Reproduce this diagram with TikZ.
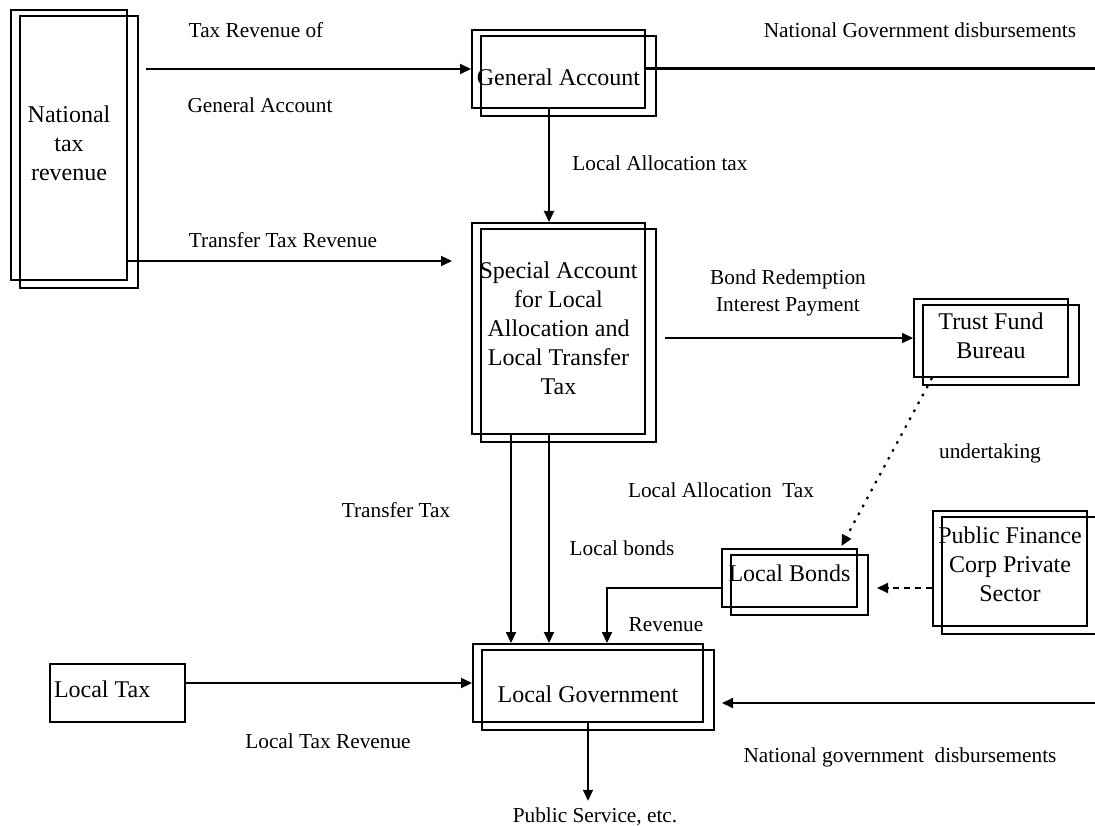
\documentclass[tikz,border=0pt]{standalone}
\usepackage{fontspec}
\setmainfont{Liberation Serif}
\usetikzlibrary{arrows.meta,calc}
\newcommand\twinbox[1]{\draw[line width=2pt] ($(#1.north west)+(10,7)$) rectangle ($(#1.south east)+(10,7)$);}
\newcommand\shiftline[2]{\raisebox{#1}[\height][\depth]{#2}}
\begin{document}
\begin{tikzpicture}[x=1pt,y=-1pt,
  box/.style={draw,line width=2pt,inner sep=0pt,align=center,font=\fontsize{24}{29}\selectfont},
  lbl/.style={inner sep=0pt,align=center,font=\fontsize{21.3}{27}\selectfont},
  tip/.style={-{Triangle[length=11pt,width=10pt]}},
  arr/.style={line width=2pt,tip},
  dotarr/.style={line width=2.2pt,dash pattern=on 2.5pt off 6.5pt,tip},
  dasharr/.style={line width=2pt,dash pattern=on 6pt off 5pt,tip}]
\useasboundingbox (0,0) rectangle (1095,826);
\fill[white] (0,0) rectangle (1095,826);

% boxes
\node[box,minimum width=116pt,minimum height=270pt] (ntr) at (69,145) {\shiftline{2pt}{National}\\\shiftline{2pt}{tax}\\\shiftline{2pt}{revenue}};
\twinbox{ntr}
\node[box,minimum width=173pt,minimum height=78pt] (ga) at (558.5,69) {\shiftline{-8pt}{General Account}};
\twinbox{ga}
\node[box,minimum width=173pt,minimum height=211pt] (sa) at (558.5,328.5) {Special Account\\for Local\\Allocation and\\Local Transfer\\Tax};
\twinbox{sa}
\node[box,minimum width=154pt,minimum height=78pt] (tf) at (991,338) {\shiftline{2pt}{Trust Fund}\\\shiftline{2pt}{Bureau}};
\twinbox{tf}
\node[box,minimum width=135pt,minimum height=58pt] (lb) at (789.5,578) {\shiftline{5pt}{Local Bonds}};
\twinbox{lb}
\node[box,minimum width=154pt,minimum height=115pt] (pf) at (1010,568.5) {\shiftline{4pt}{Public Finance}\\\shiftline{4pt}{Corp Private}\\\shiftline{4pt}{Sector}};
\twinbox{pf}
\node[box,minimum width=135pt,minimum height=58pt] (lt) at (117.5,693) {\shiftline{4pt}{\makebox[127pt][l]{Local Tax}}};
\node[box,minimum width=230pt,minimum height=78pt] (lg) at (588,683) {\shiftline{-11pt}{Local Government}};
\twinbox{lg}

% labels
\node[lbl] (l1) at (256,30) {Tax Revenue of};
\node[lbl] (l2) at (260,105) {General Account};
\node[lbl] (l3) at (283,240) {Transfer Tax Revenue};
\node[lbl] (l4) at (920,30) {National Government disbursements};
\node[lbl] (l5) at (660,163) {Local Allocation tax};
\node[lbl] (l6) at (788,292.5) {Bond Redemption\\Interest Payment};
\node[lbl] (l7) at (990,453) {undertaking};
\node[lbl] (l8) at (721,490) {Local Allocation\ \ Tax};
\node[lbl] (l9) at (396,510) {Transfer Tax};
\node[lbl] (l10) at (622,548) {Local bonds};
\node[lbl] (l11) at (666,625) {Revenue};
\node[lbl] (l12) at (328,741) {Local Tax Revenue};
\node[lbl] (l13) at (900,757) {National government\ \ disbursements};
\node[lbl] (ps) at (595,817) {Public Service, etc.};

\coordinate (ngdtop) at (1095,69);
\coordinate (ngdbot) at (1095,703);

% connectors
\draw[arr] ($(ntr.east |- ga.west)+(18,0)$) -- (ga.west);
\draw[arr] ($(ntr.east)+(0,116)$) -- ($(sa.west)+(-19,-67.5)$);
\draw[line width=3pt] (ga.east) -- (ngdtop);
\draw[arr] ($(ga.south)+(-9.5,0)$) -- ($(sa.north)+(-9.5,0)$);
\draw[arr] ($(sa.east |- tf.west)+(19,0)$) -- (tf.west);
\draw[dotarr] ($(tf.south west)+(19,0)$) -- ($(lb.north)+(52,-2)$);
\draw[dasharr] ($(pf.west)+(0,19.5)$) -- ($(lb.east)+(19,10)$);
\draw[arr] ($(lb.west)+(0,10)$) -| ($(lg.north)+(19,0)$);
\draw[arr] ($(sa.south)+(-47.5,0)$) -- ($(lg.north)+(-77,0)$);
\draw[arr] ($(sa.south)+(-9.5,0)$) -- ($(lg.north)+(-39,0)$);
\draw[arr] ($(lt.east)+(0,-10)$) -- (lg.west);
\draw[arr] (ngdbot) -- ($(lg.east)+(18,20)$);
\draw[arr] (lg.south) -- ($(lg.south |- ps.north)+(0,-7)$);
\end{tikzpicture}
\end{document}
